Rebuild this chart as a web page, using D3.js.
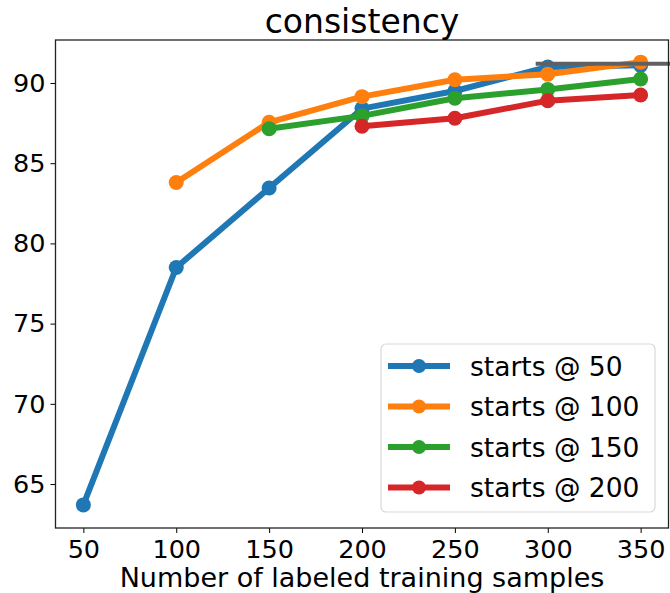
<!DOCTYPE html>
<html>
<head>
<meta charset="utf-8">
<script src="https://cdn.jsdelivr.net/npm/d3@7"></script>
<style>
  body { margin: 0; background: #fff; }
  text { font-family: "DejaVu Sans", sans-serif; fill: #000; }
</style>
</head>
<body>
<div id="chart"></div>
<script>
const xTicks = [50, 100, 150, 200, 250, 300, 350]
const yTicks = [65, 70, 75, 80, 85, 90]

const startsAt50 = [[50, 63.7], [100, 78.5], [150, 83.45], [200, 88.4], [250, 89.5], [300, 91.0], [350, 91.1]]
const startsAt100 = [[100, 83.8], [150, 87.55], [200, 89.15], [250, 90.2], [300, 90.55], [350, 91.3]]
const startsAt150 = [[150, 87.15], [200, 87.95], [250, 89.05], [300, 89.6], [350, 90.25]]
const startsAt200 = [[200, 87.3], [250, 87.8], [300, 88.9], [350, 89.25]]

const seriesNames = ['starts @ 50', 'starts @ 100', 'starts @ 150', 'starts @ 200']
const seriesColors = ['#1f77b4', '#ff7f0e', '#2ca02c', '#d62728']
const allSeries = [startsAt50, startsAt100, startsAt150, startsAt200]

// stray horizontal rule near the top right
const refLine = { x0: 293.5, y: 91.2 }

const width = 670, height = 593
const margin = { top: 40, right: 1.5, bottom: 65, left: 55.5 }

const svg = d3.select('#chart').append('svg')
  .attr('width', width)
  .attr('height', height)

const x = d3.scaleLinear()
  .domain([35, 365])
  .range([margin.left, width - margin.right])

const y = d3.scaleLinear()
  .domain([62.26, 92.68])
  .range([height - margin.bottom, margin.top])

// axes
svg.append('g')
  .attr('transform', `translate(0,${height - margin.bottom})`)
  .call(d3.axisBottom(x).tickValues(xTicks).tickSize(5).tickPadding(5))
  .call(g => g.select('.domain').remove())
  .call(g => g.selectAll('line').attr('stroke', '#000'))
  .call(g => g.selectAll('text').attr('font-size', 25.5).attr('dy', '0.78em'))

svg.append('g')
  .attr('transform', `translate(${margin.left},0)`)
  .call(d3.axisLeft(y).tickValues(yTicks).tickSize(5).tickPadding(5))
  .call(g => g.select('.domain').remove())
  .call(g => g.selectAll('line').attr('stroke', '#000'))
  .call(g => g.selectAll('text').attr('font-size', 25.5))

// lines and markers
const line = d3.line().x(d => x(d[0])).y(d => y(d[1]))

allSeries.forEach((data, i) => {
  svg.append('path')
    .datum(data)
    .attr('fill', 'none')
    .attr('stroke', seriesColors[i])
    .attr('stroke-width', 6)
    .attr('stroke-linejoin', 'round')
    .attr('d', line)

  svg.append('g').selectAll('circle')
    .data(data).enter()
    .append('circle')
      .attr('cx', d => x(d[0]))
      .attr('cy', d => y(d[1]))
      .attr('r', 7.5)
      .attr('fill', seriesColors[i])
})

svg.append('line')
  .attr('x1', x(refLine.x0))
  .attr('x2', width)
  .attr('y1', y(refLine.y))
  .attr('y2', y(refLine.y))
  .attr('stroke', '#606060')
  .attr('stroke-width', 4)

// frame
svg.append('rect')
  .attr('x', margin.left)
  .attr('y', margin.top)
  .attr('width', width - margin.right - margin.left)
  .attr('height', height - margin.bottom - margin.top)
  .attr('fill', 'none')
  .attr('stroke', '#222')
  .attr('stroke-width', 1.3)

// title and label
svg.append('text')
  .attr('x', 362)
  .attr('y', 33)
  .attr('text-anchor', 'middle')
  .attr('font-size', 33)
  .text('consistency')

svg.append('text')
  .attr('x', 362)
  .attr('y', 587)
  .attr('text-anchor', 'middle')
  .attr('font-size', 27)
  .text('Number of labeled training samples')

// legend
const legend = svg.append('g').attr('transform', 'translate(381,344)')
legend.append('rect')
  .attr('width', 274)
  .attr('height', 168)
  .attr('rx', 5)
  .attr('fill', '#fff')
  .attr('fill-opacity', 0.8)
  .attr('stroke', '#d9d9d9')
  .attr('stroke-width', 1.2)

seriesNames.forEach((name, i) => {
  const row = legend.append('g').attr('transform', `translate(0,${22 + i * 40.5})`)
  row.append('line')
    .attr('x1', 7).attr('x2', 69)
    .attr('stroke', seriesColors[i])
    .attr('stroke-width', 6)
  row.append('circle')
    .attr('cx', 38).attr('r', 7)
    .attr('fill', seriesColors[i])
  row.append('text')
    .attr('x', 89)
    .attr('dy', '0.36em')
    .attr('font-size', 26.5)
    .text(name)
})
</script>
</body>
</html>
